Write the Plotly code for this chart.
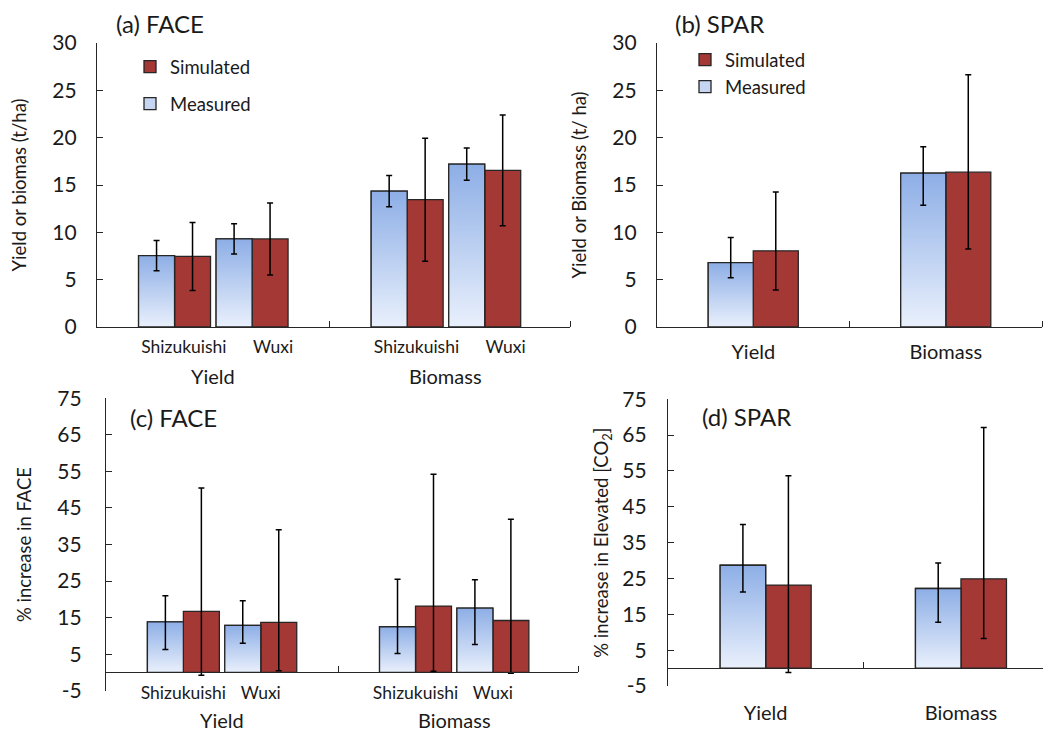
import plotly.graph_objects as go

# ---------------- data ----------------
groups = ["Yield", "Biomass"]
sites = ["Shizukuishi", "Wuxi"]

# (a) FACE, t/ha  (order: Yield-Shizukuishi, Yield-Wuxi, Biomass-Shizukuishi, Biomass-Wuxi)
face_meas = [7.55, 9.3, 14.35, 17.2]
face_meas_err = [1.6, 1.6, 1.65, 1.7]
face_sim = [7.45, 9.3, 13.45, 16.55]
face_sim_err = [3.6, 3.8, 6.5, 5.85]

# (b) SPAR, t/ha  (order: Yield, Biomass)
spar_meas = [6.8, 16.25]
spar_meas_up = [2.65, 2.8]
spar_meas_dn = [1.6, 3.4]
spar_sim = [8.05, 16.35]
spar_sim_up = [6.2, 10.3]
spar_sim_dn = [4.15, 8.1]

# (c) FACE, % increase
facepct_meas = [13.85, 12.85, 12.5, 17.6]
facepct_meas_up = [7.1, 6.75, 13.0, 7.75]
facepct_meas_dn = [7.55, 4.85, 7.3, 9.95]
facepct_sim = [16.7, 13.7, 18.15, 14.2]
facepct_sim_up = [33.75, 25.35, 36.1, 27.7]
facepct_sim_dn = [17.5, 13.25, 17.8, 14.45]

# (d) SPAR, % increase
sparpct_meas = [28.7, 22.2]
sparpct_meas_up = [11.35, 7.15]
sparpct_meas_dn = [7.45, 9.4]
sparpct_sim = [23.15, 24.9]
sparpct_sim_up = [30.5, 42.2]
sparpct_sim_dn = [24.4, 16.65]

yticks_abs = [0, 5, 10, 15, 20, 25, 30]
yticks_pct = [-5, 5, 15, 25, 35, 45, 55, 65, 75]

# ---------------- styling ----------------
PAGE_PAD = 8                      # default body margin of the html page
W, H = 1051 - PAGE_PAD, 733 - PAGE_PAD
FONT = "Lato"
EDGE = "#262626"
TXT = "#1a1a1a"
SIM_COLOR = "#A43835"
MEAS_LEGEND = "#C6D6F2"
MEAS_TOP = "#8DAEE6"
MEAS_BOTTOM = "#E9F0FC"
LW = 1.3


def fx(px):
    """screen pixel x -> paper fraction"""
    return min(1.0, (px - PAGE_PAD) / W)


def fy(py):
    """screen pixel y -> paper fraction"""
    return max(0.0, 1 - (py - PAGE_PAD) / H)


# positions: groups separated by an empty slot
pos4 = [3 * g + s for g in range(len(groups)) for s in range(len(sites))]
pos2 = list(range(len(groups)))

fig = go.Figure()


def add_panel(xa, ya, pos, w, meas, m_up, m_dn, sim, s_up, s_dn, legend, showlegend):
    common = dict(xaxis=xa, yaxis=ya)
    fig.add_trace(go.Bar(
        x=pos, y=sim, width=w, offset=0, name="Simulated",
        marker=dict(color=SIM_COLOR, line=dict(color=EDGE, width=LW)),
        error_y=dict(type="data", symmetric=False, array=s_up, arrayminus=s_dn,
                     color="black", thickness=1.5, width=3),
        legend=legend, showlegend=showlegend, legendgroup="sim", **common))
    fig.add_trace(go.Bar(
        x=pos, y=meas, width=w, offset=-w, name="Measured",
        marker=dict(color=MEAS_LEGEND, line=dict(color=EDGE, width=LW)),
        legend=legend, showlegend=showlegend, legendgroup="meas", **common))
    # vertical gradient fill of the measured bars
    for p, v in zip(pos, meas):
        fig.add_trace(go.Scatter(
            x=[p - w, p - w, p, p, p - w], y=[0, v, v, 0, 0],
            mode="lines", fill="toself",
            fillgradient=dict(type="vertical",
                              colorscale=[[0, MEAS_BOTTOM], [1, MEAS_TOP]]),
            line=dict(color=EDGE, width=LW),
            hoverinfo="skip", showlegend=False, **common))
    fig.add_trace(go.Scatter(
        x=[p - w / 2 for p in pos], y=meas, mode="markers",
        marker=dict(size=1, color="rgba(0,0,0,0)"),
        error_y=dict(type="data", symmetric=False, array=m_up, arrayminus=m_dn,
                     color="black", thickness=1.5, width=3),
        hoverinfo="skip", showlegend=False, **common))


add_panel("x", "y", pos4, 0.464, face_meas, face_meas_err, face_meas_err,
          face_sim, face_sim_err, face_sim_err, "legend", True)
add_panel("x2", "y2", pos2, 0.234, spar_meas, spar_meas_up, spar_meas_dn,
          spar_sim, spar_sim_up, spar_sim_dn, "legend2", True)
add_panel("x3", "y3", pos4, 0.465, facepct_meas, facepct_meas_up, facepct_meas_dn,
          facepct_sim, facepct_sim_up, facepct_sim_dn, "legend", False)
add_panel("x4", "y4", pos2, 0.233, sparpct_meas, sparpct_meas_up, sparpct_meas_dn,
          sparpct_sim, sparpct_sim_up, sparpct_sim_dn, "legend", False)

axis_common = dict(showline=True, linecolor=EDGE, linewidth=LW, showgrid=False,
                   zeroline=False, tickcolor=EDGE, tickwidth=LW, fixedrange=True,
                   automargin=False)

yax = dict(axis_common, ticks="inside", ticklen=6,
           tickfont=dict(size=21, color=TXT))
ytitle_font = dict(size=18.5, color=TXT)
minor4 = dict(tickvals=[2, 5.1], ticks="inside", ticklen=6, tickcolor=EDGE, tickwidth=LW)
minor2 = dict(tickvals=[0.5, 1.5], ticks="inside", ticklen=6, tickcolor=EDGE, tickwidth=LW)

site_shift_a = [0.12, 0.27]
lab4_a = [p + site_shift_a[i % 2] for i, p in enumerate(pos4)]

fig.update_layout(
    width=W, height=H, autosize=False,
    margin=dict(l=0, r=0, t=0, b=0, autoexpand=False),
    paper_bgcolor="white", plot_bgcolor="white",
    font=dict(family=FONT, color=TXT),
    barmode="overlay",
    xaxis=dict(axis_common, domain=[fx(97), fx(570)], range=[-1, 5.1], anchor="y",
               tickvals=lab4_a, ticktext=sites * 2, ticks="",
               tickfont=dict(size=17.5, color=TXT), ticklabelstandoff=4,
               minor=minor4),
    yaxis=dict(yax, domain=[fy(327), fy(43)], range=[0, 30], anchor="x",
               tickvals=yticks_abs, ticktext=[str(v) for v in yticks_abs],
               ticklabelstandoff=15,
               title=dict(text="Yield or biomas (t/ha)", font=ytitle_font, standoff=20)),
    xaxis2=dict(axis_common, domain=[fx(657), fx(1042)], range=[-0.5, 1.5], anchor="y2",
                tickvals=pos2, ticktext=groups, ticks="",
                tickfont=dict(size=20, color=TXT), ticklabelstandoff=7,
                minor=minor2),
    yaxis2=dict(yax, domain=[fy(327), fy(43)], range=[0, 30], anchor="x2",
                tickvals=yticks_abs, ticktext=[str(v) for v in yticks_abs],
                ticklabelstandoff=15,
                title=dict(text="Yield or Biomass (t/ ha)", font=ytitle_font, standoff=20)),
    xaxis3=dict(axis_common, domain=[fx(106), fx(578)], range=[-1, 5.1],
                anchor="free", position=fy(672.3),
                tickvals=pos4, ticktext=sites * 2, ticks="",
                tickfont=dict(size=17.5, color=TXT), ticklabelstandoff=5,
                minor=minor4),
    yaxis3=dict(yax, domain=[fy(690.7), fy(398.3)], range=[-5, 75], anchor="x3",
                tickvals=yticks_pct, ticktext=[str(v) for v in yticks_pct],
                ticklabelstandoff=19,
                title=dict(text="% increase in FACE", font=ytitle_font, standoff=20)),
    xaxis4=dict(axis_common, domain=[fx(668), fx(1060)], range=[-0.5, 1.461],
                anchor="free", position=fy(668.2),
                tickvals=pos2, ticktext=groups, ticks="",
                tickfont=dict(size=20, color=TXT), ticklabelstandoff=27,
                minor=minor2),
    yaxis4=dict(yax, domain=[fy(686), fy(399.3)], range=[-5, 75], anchor="x4",
                tickvals=yticks_pct, ticktext=[str(v) for v in yticks_pct],
                ticklabelstandoff=16,
                title=dict(text="% increase in Elevated [CO<sub>2</sub>]",
                           font=ytitle_font, standoff=8)),
    legend=dict(x=fx(130), y=fy(48), xanchor="left", yanchor="top",
                bgcolor="rgba(0,0,0,0)", font=dict(size=18.5, color=TXT),
                traceorder="grouped", tracegroupgap=10),
    legend2=dict(x=fx(685), y=fy(41), xanchor="left", yanchor="top",
                 bgcolor="rgba(0,0,0,0)", font=dict(size=18.5, color=TXT),
                 traceorder="grouped", tracegroupgap=0),
)

# panel titles
titles = [("(a) FACE", 160, 24), ("(b) SPAR", 719, 24),
          ("(c) FACE", 173, 417), ("(d) SPAR", 746, 416)]
for txt, cx, cy in titles:
    fig.add_annotation(text=txt, x=fx(cx), y=fy(cy), xref="paper", yref="paper",
                       showarrow=False, font=dict(size=24, color=TXT),
                       xanchor="center", yanchor="middle")

# group labels under the site labels in panels (a) and (c)
for xa, cy, yanc in (("x", 375.5, "middle"), ("x3", 733, "bottom")):
    for gi, g in enumerate(groups):
        gpos = [p for i, p in enumerate(pos4) if i // len(sites) == gi]
        fig.add_annotation(text=g, x=sum(gpos) / len(gpos), y=fy(cy),
                           xref=xa, yref="paper", showarrow=False,
                           font=dict(size=20, color=TXT), borderpad=0,
                           xanchor="center", yanchor=yanc)

fig.write_html("out.html")
